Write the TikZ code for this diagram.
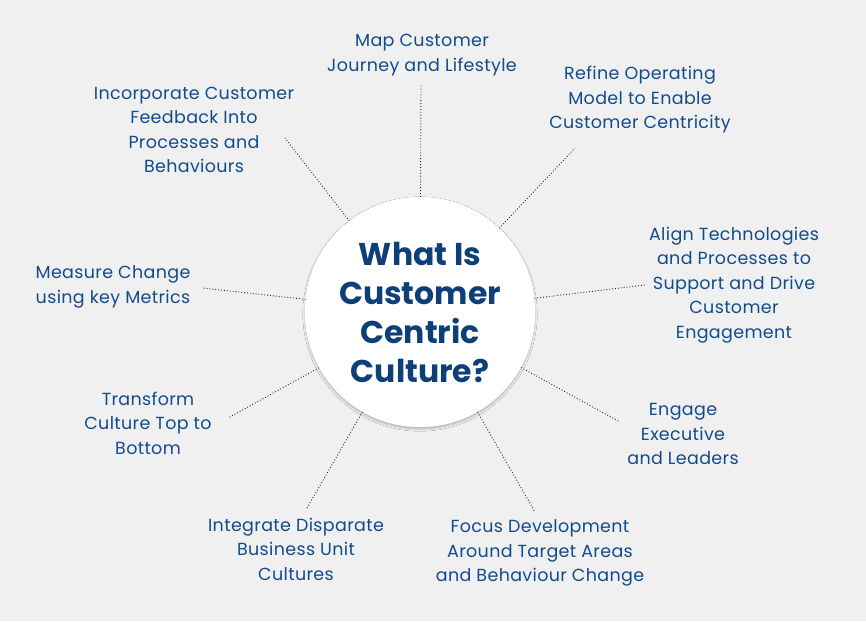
\documentclass[tikz,border=0pt]{standalone}
\usepackage{fontspec}
\setmainfont{Poppins}
\newfontfamily\labfont[LetterSpace=2]{Poppins}
\usetikzlibrary{shadows.blur}
\definecolor{bg}{HTML}{F0F0F0}
\definecolor{navy}{HTML}{0D3F78}
\definecolor{lab}{HTML}{114C8C}
\tikzset{
 lbl/.style={text=lab,align=center,font=\labfont\fontsize{17.5}{24.5}\selectfont,inner sep=0pt},
 conn/.style={dotted,line width=0.9pt,black!85},
 ttl/.style={circle,fill=white,minimum size=230pt,text=navy,align=center,font=\fontsize{31.5}{39}\selectfont\bfseries},
}
\begin{document}
\begin{tikzpicture}[x=1pt,y=-1pt]
\fill[bg] (0,0) rectangle (866,621);
\useasboundingbox (0,0) rectangle (866,621);
\node[ttl,blur shadow={shadow blur steps=8,shadow xshift=0pt,shadow yshift=-2pt,shadow opacity=25}] (c) at (420,312) {What Is\\Customer\\Centric\\Culture?};
\node[lbl] (t1) at (422,55) {Map Customer\\Journey and Lifestyle};
\node[lbl] (t2) at (640,100) {Refine Operating\\Model to Enable\\Customer Centricity};
\node[lbl] (t3) at (734,285) {Align Technologies\\and Processes to\\Support and Drive\\Customer\\Engagement};
\node[lbl] (t4) at (683,434) {Engage\\Executive\\and Leaders};
\node[lbl] (t5) at (540,553) {Focus Development\\Around Target Areas\\and Behaviour Change};
\node[lbl] (t6) at (296,549) {Integrate Disparate\\Business Unit\\Cultures};
\node[lbl] (t7) at (148,423) {Transform\\Culture Top to\\Bottom};
\node[lbl] (t8) at (113,287) {Measure Change\\using key Metrics};
\node[lbl] (t9) at (194,130) {Incorporate Customer\\Feedback Into\\Processes and\\Behaviours};
\coordinate (e1) at (421,85); \coordinate (e2) at (575,148);
\coordinate (e3) at (645,285); \coordinate (e4) at (620,422);
\coordinate (e5) at (535,512); \coordinate (e6) at (307,508);
\coordinate (e7) at (228,418); \coordinate (e8) at (203,288);
\coordinate (e9) at (285,138);
\foreach \e in {1,...,9} \draw[conn] (c) -- (e\e);
\node[ttl] at (420,312) {What Is\\Customer\\Centric\\Culture?};
\end{tikzpicture}
\end{document}
